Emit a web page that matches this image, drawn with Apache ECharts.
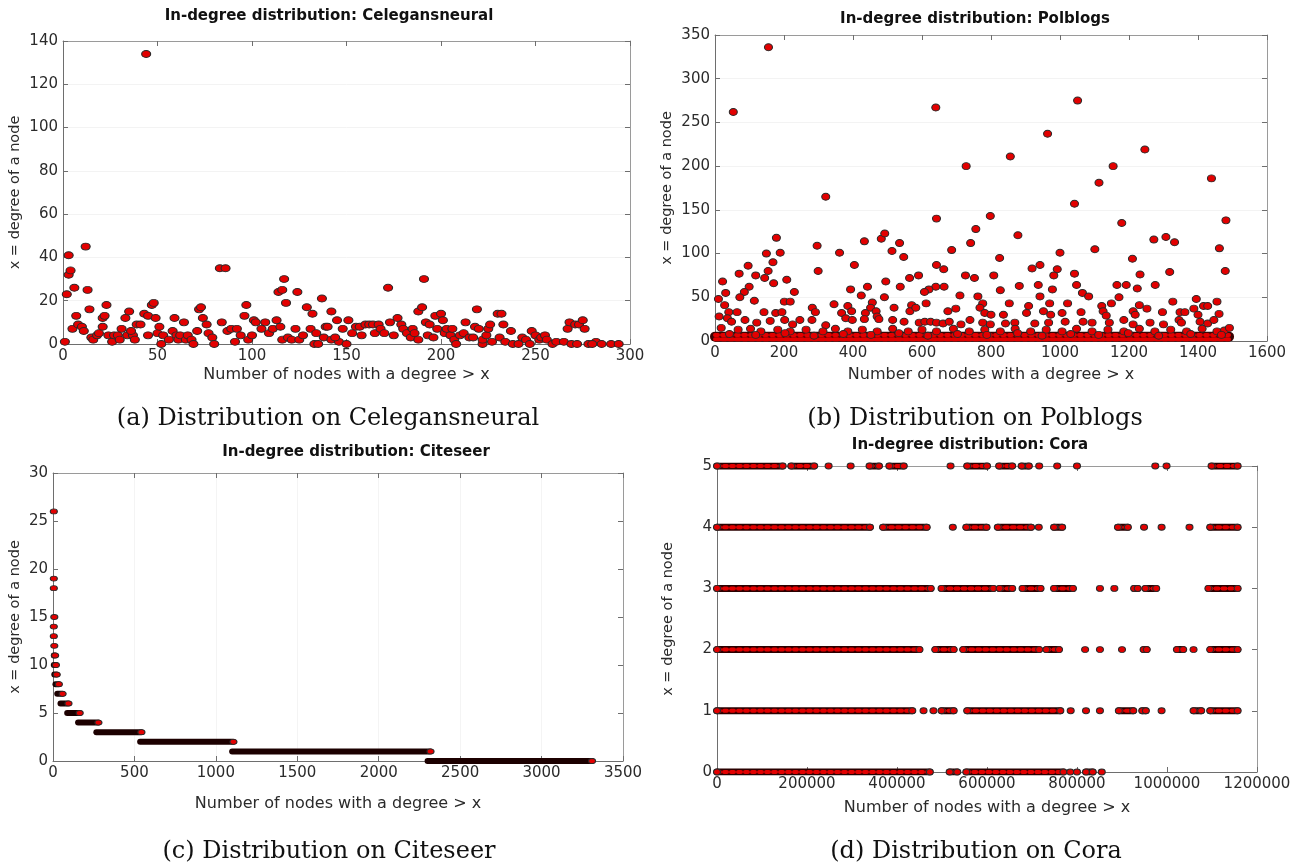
<!DOCTYPE html>
<html>
<head>
<meta charset="utf-8">
<title>In-degree distributions</title>
<script src="https://cdn.jsdelivr.net/npm/echarts@6/dist/echarts.min.js"></script>
<style>
html, body { margin: 0; padding: 0; background: #fff; }
#chart { width: 1303px; height: 865px; }
</style>
</head>
<body>
<div id="chart"></div>
<script>
// (a) Celegansneural: [nodes with degree > x, degree]
var celegans = [
  [1, 1], [2, 23], [3, 41], [3, 32], [4, 34], [6, 26], [12, 45], [13, 25], [14, 16], [7, 13],
  [5, 7], [8, 9], [10, 8], [11, 6], [15, 3], [16, 2], [18, 4], [19, 5], [21, 8], [21, 12],
  [22, 13], [23, 18], [24, 4], [26, 1], [27, 4], [29, 4], [30, 2], [31, 7], [33, 12], [35, 15],
  [34, 4], [37, 4], [36, 6], [38, 2], [39, 9], [41, 9], [43, 14], [45, 4], [45, 13], [47, 18],
  [48, 19], [49, 12], [50, 5], [51, 8], [52, 0], [53, 4], [56, 2], [58, 6], [59, 12], [60, 4],
  [61, 2], [62, 4], [64, 10], [65, 2], [66, 4], [68, 2], [69, 0], [71, 6], [72, 16], [73, 17],
  [74, 12], [76, 9], [77, 5], [79, 3], [80, 0], [83, 35], [86, 35], [84, 10], [87, 6], [89, 7],
  [91, 1], [92, 7], [94, 4], [96, 13], [97, 18], [98, 2], [100, 4], [101, 11], [102, 10], [105, 7],
  [107, 10], [109, 5], [111, 7], [113, 11], [114, 24], [115, 8], [116, 25], [117, 30], [118, 19], [116, 2],
  [119, 3], [121, 2], [123, 7], [124, 24], [125, 2], [127, 4], [129, 17], [131, 7], [132, 14], [133, 0],
  [134, 5], [135, 0], [137, 21], [138, 3], [139, 8], [44, 134], [142, 2], [146, 1], [150, 0], [144, 3],
  [142, 15], [145, 11], [140, 8], [148, 7], [151, 11], [153, 5], [155, 8], [157, 8], [158, 4], [160, 9],
  [162, 9], [164, 9], [165, 5], [167, 9], [168, 7], [170, 5], [172, 26], [173, 10], [175, 4], [177, 12],
  [179, 9], [180, 7], [182, 5], [184, 3], [185, 7], [186, 5], [188, 15], [190, 17], [191, 30], [188, 2],
  [192, 10], [193, 4], [194, 9], [196, 3], [197, 13], [198, 7], [200, 14], [201, 11], [202, 5], [203, 7],
  [205, 4], [206, 7], [207, 2], [208, 0], [210, 4], [212, 5], [213, 10], [215, 3], [217, 3], [219, 16],
  [218, 8], [220, 7], [222, 0], [222, 2], [224, 4], [225, 7], [226, 9], [227, 1], [230, 14], [232, 14],
  [231, 3], [233, 9], [234, 1], [237, 6], [238, 0], [241, 0], [243, 3], [245, 2], [247, 0], [248, 6],
  [250, 4], [252, 2], [253, 3], [255, 4], [256, 2], [259, 0], [261, 1], [265, 1], [267, 7], [268, 10],
  [271, 9], [273, 9], [275, 11], [276, 7], [269, 0], [272, 0], [278, 0], [282, 1], [285, 0], [290, 0],
  [294, 0], [280, 0]
]

// (b) Polblogs: scattered nodes plus the dense low-degree strip
var polblogs = [
  [155, 336], [53, 262], [640, 267], [1051, 275], [964, 237], [728, 200], [856, 211], [1246, 219], [1154, 200], [1113, 181],
  [1439, 186], [1042, 157], [321, 165], [1179, 135], [1481, 138], [642, 140], [798, 143], [756, 128], [878, 121], [1272, 116],
  [1307, 119], [1332, 113], [178, 118], [482, 117], [492, 123], [433, 114], [535, 112], [741, 112], [1101, 105], [1462, 106],
  [686, 104], [513, 103], [296, 109], [361, 101], [149, 100], [189, 101], [1000, 101], [547, 96], [825, 95], [1210, 94],
  [168, 90], [404, 87], [642, 87], [96, 86], [942, 87], [919, 83], [992, 82], [663, 82], [1479, 80], [154, 80],
  [299, 80], [70, 77], [118, 75], [808, 75], [726, 75], [590, 75], [564, 72], [752, 72], [982, 75], [1042, 77],
  [1232, 76], [1318, 79], [22, 68], [144, 72], [208, 70], [170, 66], [99, 62], [495, 68], [664, 62], [640, 62],
  [882, 63], [937, 64], [1048, 64], [1165, 64], [1192, 64], [1276, 64], [1224, 60], [442, 62], [537, 62], [393, 59],
  [620, 59], [978, 59], [827, 58], [710, 52], [31, 55], [230, 56], [85, 56], [424, 52], [491, 50], [607, 56],
  [762, 51], [1065, 55], [1083, 51], [1171, 50], [1395, 48], [942, 51], [1327, 45], [1455, 45], [10, 48], [72, 50],
  [114, 46], [201, 45], [218, 45], [345, 42], [456, 44], [519, 38], [570, 41], [612, 43], [776, 43], [853, 43],
  [909, 40], [970, 43], [1022, 43], [1121, 40], [1149, 43], [1212, 34], [1230, 41], [1416, 40], [1428, 40], [28, 41],
  [40, 33], [64, 33], [142, 33], [176, 32], [194, 33], [282, 38], [291, 33], [367, 32], [385, 40], [396, 34],
  [436, 32], [451, 38], [467, 34], [470, 28], [565, 34], [582, 38], [675, 34], [698, 37], [768, 38], [782, 32],
  [800, 30], [836, 30], [903, 32], [952, 34], [973, 30], [1006, 32], [1061, 33], [1125, 34], [1134, 29], [1218, 30],
  [1252, 37], [1297, 33], [1348, 33], [1362, 33], [1388, 37], [1400, 30], [1461, 31], [12, 28], [36, 26], [48, 22],
  [87, 24], [121, 21], [160, 23], [202, 24], [225, 19], [246, 24], [281, 24], [321, 18], [379, 26], [398, 24],
  [433, 25], [475, 25], [515, 24], [548, 22], [592, 21], [608, 22], [625, 22], [642, 21], [661, 20], [679, 22],
  [713, 19], [739, 24], [776, 21], [798, 19], [842, 20], [869, 21], [927, 20], [967, 21], [1015, 22], [1067, 22],
  [1093, 21], [1143, 21], [1185, 24], [1212, 19], [1261, 21], [1300, 19], [1345, 24], [1352, 21], [1406, 22], [1428, 20],
  [1446, 24], [1476, 12], [1491, 15], [18, 15], [67, 13], [103, 14], [133, 11], [182, 13], [218, 11], [264, 13],
  [313, 11], [349, 14], [385, 11], [427, 13], [470, 11], [515, 14], [560, 11], [600, 13], [642, 11], [691, 14],
  [737, 11], [782, 13], [827, 11], [870, 14], [915, 11], [960, 13], [1006, 11], [1048, 14], [1093, 11], [1139, 13],
  [1185, 11], [1230, 14], [1275, 11], [1321, 13], [1367, 11], [1412, 14], [1455, 11], [42, 8], [118, 7], [203, 9],
  [287, 6], [372, 8], [452, 7], [533, 9], [617, 6], [703, 8], [788, 7], [877, 9], [948, 6], [1031, 8],
  [1112, 7], [1198, 9], [1286, 6], [1379, 8], [1468, 7]
]
var polStripX = [0, 1490]
var polStripY = [2, 5, 7]

// (c) Citeseer: runs of nodes sharing one degree [degree, first x, last x]
var citeseerRuns = [
  [0, 2300, 3310], [1, 1100, 2318], [2, 535, 1108], [3, 266, 543], [4, 154, 279],
  [5, 87, 164], [6, 46, 95], [7, 26, 59], [8, 15, 36], [9, 8, 23],
  [10, 5, 18], [11, 5, 13], [12, 8, 8], [13, 5, 5], [14, 5, 5],
  [15, 8, 8], [18, 5, 5], [19, 5, 5], [26, 5, 5]
]

// (d) Cora: runs per degree row [degree, first x, last x]
var coraRuns = [
  [5, 0, 146000], [5, 165000, 216000], [5, 248000, 248000], [5, 297000, 297000], [5, 339000, 360000],
  [5, 383000, 415000], [5, 519000, 519000], [5, 556000, 600000], [5, 627000, 656000], [5, 677000, 693000],
  [5, 716000, 716000], [5, 756000, 756000], [5, 800000, 800000], [5, 974000, 974000], [5, 999000, 999000],
  [5, 1099000, 1157000],
  [4, 0, 340000], [4, 369000, 466000], [4, 524000, 524000], [4, 554000, 599000], [4, 624000, 698000],
  [4, 715000, 715000], [4, 749000, 767000], [4, 891000, 913000], [4, 949000, 949000], [4, 988000, 988000],
  [4, 1050000, 1050000], [4, 1096000, 1157000],
  [3, 0, 475000], [3, 499000, 614000], [3, 628000, 656000], [3, 679000, 719000], [3, 749000, 791000],
  [3, 851000, 851000], [3, 883000, 883000], [3, 927000, 935000], [3, 952000, 976000], [3, 1092000, 1157000],
  [2, 0, 450000], [2, 485000, 526000], [2, 547000, 716000], [2, 732000, 760000], [2, 818000, 818000],
  [2, 851000, 851000], [2, 900000, 900000], [2, 948000, 955000], [2, 1022000, 1036000], [2, 1059000, 1059000],
  [2, 1096000, 1157000],
  [1, 0, 434000], [1, 459000, 459000], [1, 481000, 481000], [1, 499000, 526000], [1, 556000, 763000],
  [1, 786000, 786000], [1, 820000, 820000], [1, 851000, 851000], [1, 893000, 925000], [1, 945000, 953000],
  [1, 988000, 988000], [1, 1059000, 1076000], [1, 1096000, 1157000],
  [0, 0, 473000], [0, 517000, 534000], [0, 554000, 770000], [0, 785000, 785000], [0, 800000, 800000],
  [0, 820000, 835000], [0, 855000, 855000]
]

var titles = [
  'In-degree distribution: Celegansneural',
  'In-degree distribution: Polblogs',
  'In-degree distribution: Citeseer',
  'In-degree distribution: Cora'
]
var captions = [
  '(a) Distribution on Celegansneural',
  '(b) Distribution on Polblogs',
  '(c) Distribution on Citeseer',
  '(d) Distribution on Cora'
]
var xName = 'Number of nodes with a degree > x'
var yName = 'x = degree of a node'

// layout of the four panels
var panels = [
  { left: 63, top: 41, width: 567, height: 303, xMax: 300, xStep: 50, yMax: 140, yStep: 20, xGap: 23, yGap: 40, tx: 329, ty: 9, cx: 328, cy: 419 },
  { left: 715, top: 35, width: 552, height: 306, xMax: 1600, xStep: 200, yMax: 350, yStep: 50, xGap: 26, yGap: 40, tx: 975, ty: 12, cx: 975, cy: 419 },
  { left: 53, top: 473, width: 570, height: 288, xMax: 3500, xStep: 500, yMax: 30, yStep: 5, xGap: 35, yGap: 30, tx: 356, ty: 445, cx: 329, cy: 852 },
  { left: 717, top: 466, width: 540, height: 306, xMax: 1200000, xStep: 200000, yMax: 5, yStep: 1, xGap: 28, yGap: 41, tx: 970, ty: 438, cx: 976, cy: 852 }
]

var sans = 'DejaVu Sans'
var red = '#e30000'
var edge = '#2a2a2a'

var grids = []
var xAxes = []
var yAxes = []
var titleList = []
var graphics = []

function plain (v) {
  return String(v)
}

panels.forEach(function (p, k) {
  grids.push({ left: p.left, top: p.top, width: p.width, height: p.height, containLabel: false })
  var label = { fontFamily: sans, fontSize: 15, color: '#2b2b2b', margin: 5, formatter: plain }
  xAxes.push({
    type: 'value', gridIndex: k, position: 'bottom', min: 0, max: p.xMax, interval: p.xStep,
    axisLine: { onZero: false, lineStyle: { color: '#6e6e6e' } },
    axisTick: { inside: true, length: 5, lineStyle: { color: '#6e6e6e' } },
    axisLabel: label,
    splitLine: { show: k === 2, lineStyle: { color: '#f4f4f4' } },
    name: xName, nameLocation: 'middle', nameGap: p.xGap,
    nameTextStyle: { fontFamily: sans, fontSize: 16, color: '#2b2b2b' }
  })
  xAxes.push({
    type: 'value', gridIndex: k, position: 'top', min: 0, max: p.xMax, interval: p.xStep,
    axisLine: { onZero: false, lineStyle: { color: '#9a9a9a' } },
    axisTick: { inside: true, length: 5, lineStyle: { color: '#6e6e6e' } },
    axisLabel: { show: false }, splitLine: { show: false }
  })
  yAxes.push({
    type: 'value', gridIndex: k, position: 'left', min: 0, max: p.yMax, interval: p.yStep,
    axisLine: { onZero: false, lineStyle: { color: '#6e6e6e' } },
    axisTick: { inside: true, length: 5, lineStyle: { color: '#6e6e6e' } },
    axisLabel: label,
    splitLine: { show: k < 2, lineStyle: { color: '#f3f3f3' } },
    name: yName, nameLocation: 'middle', nameGap: p.yGap,
    nameTextStyle: { fontFamily: sans, fontSize: 14.5, color: '#2b2b2b' }
  })
  yAxes.push({
    type: 'value', gridIndex: k, position: 'right', min: 0, max: p.yMax, interval: p.yStep,
    axisLine: { onZero: false, lineStyle: { color: '#9a9a9a' } },
    axisTick: { inside: true, length: 5, lineStyle: { color: '#6e6e6e' } },
    axisLabel: { show: false }, splitLine: { show: false }
  })
  titleList.push({
    text: titles[k], left: p.tx, top: p.ty, textAlign: 'center', padding: 0,
    textStyle: { fontFamily: sans, fontWeight: 'bold', fontSize: 15, color: '#111' }
  })
  graphics.push({
    type: 'text', x: p.cx, y: p.cy,
    style: {
      text: captions[k], font: '24px "DejaVu Serif"', fill: '#111',
      textAlign: 'center', textVerticalAlign: 'middle', align: 'center', verticalAlign: 'middle'
    }
  })
})

function dots (data, k, size) {
  return {
    type: 'scatter', xAxisIndex: 2 * k, yAxisIndex: 2 * k, data: data,
    symbol: 'circle', symbolSize: size, clip: false, silent: true, z: 5,
    itemStyle: { color: red, borderColor: edge, borderWidth: 1, opacity: 1 }
  }
}

function run (x1, x2, y, k, width, color, dash, z) {
  return {
    type: 'line', xAxisIndex: 2 * k, yAxisIndex: 2 * k, data: [[x1, y], [x2, y]],
    showSymbol: false, silent: true, z: z, clip: true,
    lineStyle: { width: width, color: color, type: dash || 'solid', cap: 'round' }
  }
}

var series = []

// (a)
series.push(dots(celegans, 0, [9, 7]))

// (b) dense strip near degree 0, then the scattered nodes
series.push(run(polStripX[0], polStripX[1], polStripY[1], 1, 10, '#3a0303', null, 2))
series.push(run(polStripX[0], polStripX[1], polStripY[0], 1, 4, red, [4, 3], 3))
series.push(run(polStripX[0], polStripX[1], polStripY[2], 1, 4, red, [3, 4], 3))
series.push(dots(polblogs, 1, [8, 7]))

// (c) one dark band per degree, red dot at its right end
var citeEnds = []
citeseerRuns.forEach(function (r) {
  if (r[2] > r[1]) series.push(run(r[1], r[2], r[0], 2, 6, '#1c0000', null, 2))
  citeEnds.push([r[2], r[0]])
})
series.push(dots(citeEnds, 2, [7, 5]))

// (d) chains of dots along each degree row
var coraDots = []
coraRuns.forEach(function (r) {
  if (r[2] > r[1]) {
    series.push(run(r[1], r[2], r[0], 3, 7, '#2a0000', null, 2))
    series.push(run(r[1], r[2], r[0], 3, 4, red, [3, 4], 3))
    coraDots.push([r[1], r[0]])
  }
  coraDots.push([r[2], r[0]])
})
series.push(dots(coraDots, 3, [7, 6]))

var myChart = echarts.init(document.getElementById('chart'))
myChart.setOption({
  animation: false,
  backgroundColor: '#fff',
  title: titleList,
  grid: grids,
  xAxis: xAxes,
  yAxis: yAxes,
  graphic: graphics,
  series: series
})
</script>
</body>
</html>
